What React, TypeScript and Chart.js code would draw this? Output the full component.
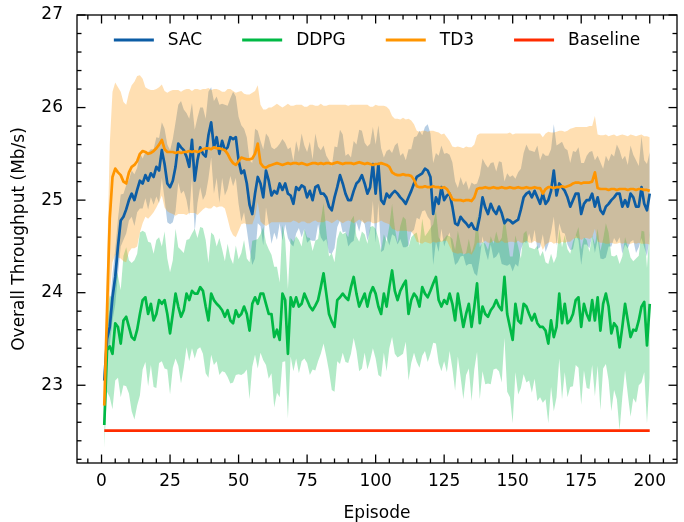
import React, { useEffect, useRef } from 'react';
import { Chart, registerables } from 'chart.js';

Chart.register(...registerables);

const WIDTH = 684;
const HEIGHT = 522;
const FONT_FAMILY = '"DejaVu Sans", sans-serif';
const FONT_SIZE = 17;

// Episode index (1..200)
const EPISODES: number[] = Array.from({ length: 200 }, (_, i) => i + 1);

// SAC: mean throughput per episode and its standard deviation
const SAC_MEAN = [
  23.05, 23.5, 23.63, 23.95, 24.17, 24.5, 24.78, 24.82, 24.9, 25.0,
  25.07, 25.0, 25.11, 25.21, 25.18, 25.27, 25.21, 25.29, 25.25, 25.36,
  25.32, 25.54, 25.39, 25.18, 25.14, 25.21, 25.36, 25.61, 25.57, 25.54,
  25.47, 25.36, 25.65, 25.21, 25.43, 25.57, 25.5, 25.47, 25.7, 25.84,
  25.57, 25.68, 25.5, 25.64, 25.54, 25.57, 25.68, 25.66, 25.68, 25.43,
  25.29, 25.32, 25.18, 24.95, 24.85, 25.07, 25.25, 25.18, 25.03, 25.32,
  25.21, 25.05, 25.1, 25.07, 25.18, 25.11, 25.18, 25.07, 25.05, 24.96,
  25.14, 25.11, 25.16, 25.14, 25.03, 25.1, 25.0, 25.14, 25.16, 25.07,
  25.07, 25.03, 24.93, 24.89, 25.03, 25.14, 25.27, 25.18, 25.07, 25.0,
  25.0, 25.1, 25.18, 25.21, 25.27, 25.18, 25.07, 25.14, 25.39, 25.07,
  25.39, 25.0, 24.96, 25.07, 25.03, 25.07, 25.1, 25.07, 25.03, 25.0,
  24.96, 25.03, 25.1, 25.18, 25.25, 25.27, 25.29, 25.34, 25.32, 25.25,
  24.85, 25.03, 24.96, 25.14, 25.0, 25.05, 25.07, 24.93, 24.75, 24.73,
  24.82, 24.78, 24.75, 24.71, 24.75, 24.69, 24.68, 24.82, 25.03, 24.92,
  24.85, 24.96, 24.89, 24.85, 24.93, 24.86, 24.75, 24.79, 24.78, 24.75,
  24.77, 24.79, 24.9, 25.03, 25.07, 25.09, 25.03, 25.1, 25.03, 24.96,
  25.07, 24.96, 25.0, 25.1, 25.32, 25.05, 25.18, 25.14, 25.1, 25.03,
  24.93, 25.0, 25.07, 25.07, 24.85, 24.96, 25.0, 25.0, 25.07, 24.93,
  25.03, 24.89, 24.85, 24.93, 24.96, 25.0, 25.03, 25.07, 25.07, 24.93,
  25.0, 24.93, 25.07, 25.03, 24.93, 24.93, 25.14, 24.96, 24.89, 25.07,
];
const SAC_STD = [
  0.08, 0.15, 0.2, 0.25, 0.3, 0.3, 0.28, 0.25, 0.26, 0.22,
  0.25, 0.28, 0.24, 0.3, 0.27, 0.25, 0.31, 0.26, 0.3, 0.32,
  0.35, 0.3, 0.38, 0.42, 0.4, 0.45, 0.48, 0.42, 0.5, 0.44,
  0.47, 0.52, 0.4, 0.55, 0.46, 0.43, 0.5, 0.41, 0.47, 0.38,
  0.5, 0.44, 0.53, 0.4, 0.49, 0.45, 0.42, 0.51, 0.44, 0.47,
  0.52, 0.45, 0.5, 0.48, 0.55, 0.7, 0.5, 0.46, 0.52, 0.4,
  0.47, 0.52, 0.45, 0.5, 0.43, 0.55, 0.44, 0.48, 0.52, 0.46,
  0.5, 0.41, 0.56, 0.45, 0.49, 0.53, 0.44, 0.58, 0.42, 0.47,
  0.52, 0.45, 0.5, 0.47, 0.55, 0.43, 0.49, 0.53, 0.41, 0.5,
  0.46, 0.54, 0.42, 0.55, 0.48, 0.44, 0.51, 0.47, 0.4, 0.53,
  0.42, 0.56, 0.5, 0.46, 0.52, 0.44, 0.49, 0.55, 0.45, 0.51,
  0.47, 0.52, 0.45, 0.5, 0.44, 0.48, 0.41, 0.45, 0.5, 0.47,
  0.55, 0.48, 0.52, 0.45, 0.5, 0.46, 0.42, 0.48, 0.45, 0.4,
  0.43, 0.38, 0.46, 0.4, 0.44, 0.48, 0.5, 0.45, 0.42, 0.47,
  0.5, 0.44, 0.52, 0.46, 0.49, 0.55, 0.45, 0.5, 0.47, 0.52,
  0.46, 0.51, 0.44, 0.48, 0.53, 0.45, 0.5, 0.42, 0.56, 0.47,
  0.44, 0.52, 0.48, 0.45, 0.5, 0.54, 0.43, 0.49, 0.46, 0.51,
  0.47, 0.53, 0.45, 0.5, 0.55, 0.44, 0.48, 0.52, 0.46, 0.5,
  0.45, 0.52, 0.49, 0.55, 0.46, 0.5, 0.44, 0.53, 0.47, 0.51,
  0.48, 0.45, 0.52, 0.46, 0.5, 0.44, 0.55, 0.47, 0.5, 0.45,
];

// DDPG: mean throughput per episode and its standard deviation
const DDPG_MEAN = [
  22.57, 23.38, 23.42, 23.34, 23.67, 23.63, 23.45, 23.7, 23.74, 23.63,
  23.52, 23.49, 23.6, 23.77, 23.92, 23.95, 23.77, 23.88, 23.7, 23.77,
  23.92, 23.88, 23.92, 23.77, 23.56, 23.77, 23.99, 23.85, 23.74, 23.81,
  23.99, 23.92, 24.02, 23.99, 23.99, 24.06, 24.02, 23.85, 23.7, 23.99,
  23.92, 23.88, 23.85, 23.81, 23.74, 23.81, 23.7, 23.67, 23.81, 23.74,
  23.77, 23.85, 23.77, 23.59, 23.88, 23.95, 23.88, 23.99, 23.99, 23.88,
  23.77, 23.77, 23.52, 23.6, 23.49, 23.99, 23.92, 23.34, 23.95, 23.85,
  23.95, 23.85, 23.88, 23.99, 23.92, 23.85, 23.81, 23.86, 23.92, 24.06,
  24.21, 23.99, 23.77, 23.69, 23.63, 23.92, 23.95, 23.99, 23.95, 23.92,
  24.06, 24.17, 23.99, 23.85, 23.92, 23.99, 23.85, 23.99, 24.06, 23.99,
  23.85, 23.77, 23.99, 23.85, 24.06, 24.24, 24.02, 23.92, 24.02, 24.08,
  24.13, 23.77, 23.92, 23.99, 23.95, 23.85, 24.06, 23.99, 23.95, 24.02,
  24.1, 24.17, 23.92, 23.85, 23.92, 23.88, 23.99, 23.88, 23.7, 23.99,
  23.81, 23.63, 23.77, 23.88, 23.63, 23.85, 24.1, 23.67, 23.85, 23.77,
  23.74, 23.81, 23.85, 23.92, 23.85, 23.81, 24.17, 23.77, 23.63, 23.49,
  23.88, 23.7, 23.67, 23.88, 23.85, 23.77, 23.7, 23.77, 23.67, 23.63,
  23.63, 23.59, 23.45, 23.7, 23.52, 23.63, 23.99, 23.67, 23.88, 23.67,
  23.7, 23.77, 23.92, 23.95, 23.63, 23.88, 23.77, 23.7, 23.92, 23.7,
  23.95, 23.59, 23.88, 23.99, 23.85, 23.56, 23.67, 23.63, 23.41, 23.63,
  23.88, 23.7, 23.52, 23.6, 23.59, 23.7, 23.85, 23.9, 23.43, 23.88,
];
const DDPG_STD = [
  0.25, 0.45, 0.55, 0.6, 0.62, 0.55, 0.58, 0.7, 0.75, 0.72,
  0.8, 0.86, 0.82, 0.88, 0.75, 0.7, 0.78, 0.66, 0.72, 0.8,
  0.68, 0.62, 0.74, 0.6, 0.66, 0.58, 0.7, 0.64, 0.72, 0.62,
  0.58, 0.66, 0.62, 0.7, 0.6, 0.65, 0.68, 0.72, 0.62, 0.66,
  0.7, 0.62, 0.74, 0.66, 0.6, 0.72, 0.68, 0.64, 0.7, 0.62,
  0.66, 0.72, 0.6, 0.74, 0.68, 0.62, 0.7, 0.64, 0.72, 0.66,
  0.7, 0.64, 0.76, 0.68, 0.62, 0.74, 0.66, 0.7, 0.64, 0.7,
  0.66, 0.72, 0.62, 0.7, 0.68, 0.74, 0.64, 0.7, 0.66, 0.72,
  0.76, 0.68, 0.62, 0.74, 0.7, 0.66, 0.72, 0.64, 0.7, 0.68,
  0.72, 0.66, 0.62, 0.7, 0.74, 0.64, 0.68, 0.72, 0.66, 0.7,
  0.74, 0.68, 0.64, 0.7, 0.66, 0.72, 0.68, 0.62, 0.7, 0.74,
  0.66, 0.72, 0.68, 0.64, 0.7, 0.66, 0.74, 0.62, 0.7, 0.68,
  0.64, 0.72, 0.68, 0.7, 0.66, 0.74, 0.62, 0.7, 0.76, 0.68,
  0.72, 0.78, 0.66, 0.7, 0.8, 0.68, 0.74, 0.82, 0.7, 0.76,
  0.72, 0.8, 0.68, 0.74, 0.7, 0.78, 0.66, 0.84, 0.76, 0.9,
  0.74, 0.8, 0.7, 0.76, 0.82, 0.72, 0.78, 0.7, 0.84, 0.76,
  0.82, 0.74, 0.86, 0.72, 0.8, 0.76, 0.7, 0.82, 0.74, 0.8,
  0.72, 0.78, 0.7, 0.76, 0.84, 0.72, 0.8, 0.74, 0.7, 0.82,
  0.74, 0.86, 0.7, 0.76, 0.8, 0.84, 0.72, 0.78, 0.9, 0.76,
  0.72, 0.8, 0.86, 0.74, 0.78, 0.7, 0.82, 0.76, 0.84, 0.8,
];

// TD3: mean throughput per episode and its standard deviation
const TD3_MEAN = [
  22.78, 23.8, 24.8, 25.25, 25.34, 25.3, 25.27, 25.2, 25.18, 25.3,
  25.36, 25.38, 25.42, 25.5, 25.53, 25.52, 25.5, 25.51, 25.53, 25.56,
  25.6, 25.65, 25.55, 25.52, 25.52, 25.52, 25.51, 25.52, 25.51, 25.52,
  25.52, 25.53, 25.52, 25.53, 25.52, 25.53, 25.55, 25.56, 25.56, 25.55,
  25.57, 25.56, 25.56, 25.55, 25.54, 25.5, 25.44, 25.4, 25.38, 25.42,
  25.46, 25.45, 25.44, 25.44, 25.45, 25.5, 25.61, 25.4, 25.36, 25.35,
  25.37, 25.38, 25.39, 25.4, 25.39, 25.38, 25.39, 25.4, 25.39, 25.4,
  25.4, 25.39, 25.4, 25.39, 25.38, 25.39, 25.4, 25.4, 25.39, 25.4,
  25.39, 25.4, 25.4, 25.39, 25.4, 25.41, 25.4, 25.39, 25.4, 25.4,
  25.4, 25.39, 25.4, 25.41, 25.4, 25.39, 25.4, 25.39, 25.38, 25.39,
  25.39, 25.4, 25.39, 25.38, 25.36, 25.3, 25.28, 25.27, 25.27, 25.28,
  25.27, 25.27, 25.26, 25.22, 25.15, 25.14, 25.14, 25.15, 25.14, 25.14,
  25.15, 25.14, 25.14, 25.13, 25.14, 25.12, 25.07, 25.01, 25.0, 25.0,
  25.0, 24.99, 25.0, 25.0, 24.99, 25.03, 25.12, 25.13, 25.13, 25.14,
  25.13, 25.13, 25.14, 25.13, 25.13, 25.14, 25.13, 25.13, 25.14, 25.13,
  25.13, 25.14, 25.13, 25.13, 25.14, 25.13, 25.13, 25.14, 25.13, 25.13,
  25.07, 25.12, 25.14, 25.14, 25.13, 25.14, 25.14, 25.15, 25.14, 25.15,
  25.16, 25.18, 25.19, 25.19, 25.18, 25.19, 25.19, 25.19, 25.2, 25.3,
  25.13, 25.12, 25.12, 25.12, 25.11, 25.12, 25.12, 25.11, 25.12, 25.12,
  25.12, 25.11, 25.12, 25.12, 25.11, 25.12, 25.12, 25.11, 25.11, 25.1,
];
const TD3_STD = [
  0.15, 0.5, 0.8, 0.92, 0.93, 0.92, 0.9, 0.86, 0.85, 0.86,
  0.88, 0.9, 0.92, 0.85, 0.78, 0.7, 0.7, 0.68, 0.66, 0.64,
  0.62, 0.6, 0.63, 0.64, 0.66, 0.67, 0.68, 0.67, 0.66, 0.67,
  0.68, 0.67, 0.66, 0.67, 0.68, 0.66, 0.65, 0.64, 0.65, 0.64,
  0.63, 0.64, 0.63, 0.62, 0.63, 0.7, 0.76, 0.78, 0.78, 0.75,
  0.72, 0.7, 0.7, 0.7, 0.71, 0.68, 0.63, 0.63, 0.62, 0.63,
  0.63, 0.62, 0.63, 0.64, 0.63, 0.62, 0.63, 0.64, 0.63, 0.62,
  0.63, 0.64, 0.63, 0.62, 0.63, 0.64, 0.63, 0.62, 0.63, 0.64,
  0.63, 0.62, 0.63, 0.64, 0.63, 0.62, 0.63, 0.64, 0.63, 0.62,
  0.63, 0.64, 0.63, 0.62, 0.63, 0.64, 0.63, 0.62, 0.63, 0.64,
  0.63, 0.62, 0.63, 0.63, 0.62, 0.61, 0.6, 0.61, 0.6, 0.61,
  0.6, 0.61, 0.6, 0.6, 0.6, 0.6, 0.61, 0.6, 0.6, 0.61,
  0.6, 0.6, 0.59, 0.58, 0.58, 0.56, 0.57, 0.57, 0.57, 0.58,
  0.57, 0.57, 0.58, 0.57, 0.58, 0.57, 0.58, 0.59, 0.59, 0.58,
  0.59, 0.59, 0.58, 0.59, 0.59, 0.58, 0.59, 0.59, 0.59, 0.58,
  0.59, 0.58, 0.59, 0.59, 0.58, 0.59, 0.59, 0.58, 0.59, 0.59,
  0.61, 0.6, 0.6, 0.59, 0.6, 0.6, 0.61, 0.6, 0.6, 0.6,
  0.61, 0.6, 0.6, 0.6, 0.61, 0.6, 0.6, 0.61, 0.6, 0.61,
  0.58, 0.58, 0.58, 0.59, 0.58, 0.58, 0.59, 0.58, 0.58, 0.59,
  0.58, 0.58, 0.59, 0.58, 0.58, 0.58, 0.59, 0.58, 0.58, 0.58,
];

// Baseline: constant throughput
const BASELINE_VALUE = 22.51;

const X_TICKS = [0, 25, 50, 75, 100, 125, 150, 175, 200];
const Y_TICKS = [23, 24, 25, 26, 27];
const X_MIN = -8.95;
const X_MAX = 209.95;
const Y_MIN = 22.16;
const Y_MAX = 27;
const X_MINOR_STEP = 5;
const Y_MINOR_STEP = 0.2;

const SERIES = [
  { label: 'SAC', color: '#0C5DA5', band: 'rgba(12, 93, 165, 0.3)', mean: SAC_MEAN, std: SAC_STD },
  { label: 'DDPG', color: '#00B945', band: 'rgba(0, 185, 69, 0.3)', mean: DDPG_MEAN, std: DDPG_STD },
  { label: 'TD3', color: '#FF9500', band: 'rgba(255, 149, 0, 0.3)', mean: TD3_MEAN, std: TD3_STD },
];
const BASELINE_COLOR = '#FF2C00';
const LINE_WIDTH = 2.7;

function buildDatasets() {
  const datasets: any[] = [];
  // Shaded ±std bands, drawn beneath all lines (higher order = drawn earlier)
  SERIES.forEach((s, k) => {
    const lowerIndex = datasets.length;
    datasets.push({
      label: `${s.label} lower`,
      isBand: true,
      data: EPISODES.map((e, i) => ({ x: e, y: s.mean[i] - s.std[i] })),
      borderColor: 'rgba(0,0,0,0)',
      borderWidth: 0,
      pointRadius: 0,
      fill: false,
      order: 31 - k * 10,
    });
    datasets.push({
      label: `${s.label} upper`,
      isBand: true,
      data: EPISODES.map((e, i) => ({ x: e, y: s.mean[i] + s.std[i] })),
      borderColor: 'rgba(0,0,0,0)',
      borderWidth: 0,
      pointRadius: 0,
      backgroundColor: s.band,
      fill: lowerIndex,
      order: 30 - k * 10,
    });
  });
  // Mean curves
  SERIES.forEach((s, k) => {
    datasets.push({
      label: s.label,
      data: EPISODES.map((e, i) => ({ x: e, y: s.mean[i] })),
      borderColor: s.color,
      backgroundColor: s.color,
      borderWidth: LINE_WIDTH,
      borderJoinStyle: 'round',
      pointRadius: 0,
      fill: false,
      tension: 0,
      order: 4 - k,
    });
  });
  datasets.push({
    label: 'Baseline',
    data: EPISODES.map((e) => ({ x: e, y: BASELINE_VALUE })),
    borderColor: BASELINE_COLOR,
    backgroundColor: BASELINE_COLOR,
    borderWidth: LINE_WIDTH,
    pointRadius: 0,
    fill: false,
    order: 1,
  });
  return datasets;
}

// Axes frame with inward major/minor ticks on all four sides
const framePlugin = {
  id: 'axesFrame',
  afterDatasetsDraw(chart: any) {
    const { ctx, chartArea, scales } = chart;
    const { left, right, top, bottom } = chartArea;
    const xs = scales.x;
    const ys = scales.y;
    ctx.save();
    ctx.strokeStyle = '#000';
    ctx.lineWidth = 1.3;
    ctx.lineCap = 'butt';
    ctx.strokeRect(left, top, right - left, bottom - top);

    const seg = (x1: number, y1: number, x2: number, y2: number) => {
      ctx.beginPath();
      ctx.moveTo(x1, y1);
      ctx.lineTo(x2, y2);
      ctx.stroke();
    };
    const MAJOR = 8.5;
    const MINOR = 4.5;

    for (let v = Math.ceil(X_MIN / X_MINOR_STEP) * X_MINOR_STEP; v <= X_MAX; v += X_MINOR_STEP) {
      const p = xs.getPixelForValue(v);
      const len = X_TICKS.includes(v) ? MAJOR : MINOR;
      seg(p, bottom, p, bottom - len);
      seg(p, top, p, top + len);
    }
    const yStart = Math.ceil(Y_MIN / Y_MINOR_STEP);
    const yEnd = Math.floor(Y_MAX / Y_MINOR_STEP + 1e-9);
    for (let n = yStart; n <= yEnd; n++) {
      const v = n * Y_MINOR_STEP;
      const p = ys.getPixelForValue(v);
      const isMajor = Y_TICKS.some((t) => Math.abs(t - v) < 1e-6);
      const len = isMajor ? MAJOR : MINOR;
      seg(left, p, left + len, p);
      seg(right, p, right - len, p);
    }
    ctx.restore();
  },
};

// Single-row legend placed inside the top of the plot area
const legendPlugin = {
  id: 'insideLegend',
  afterDraw(chart: any) {
    const { ctx, chartArea } = chart;
    const items = chart.data.datasets
      .filter((d: any) => !d.isBand)
      .map((d: any) => ({ label: d.label, color: d.borderColor }));
    const HANDLE = 40;
    const TEXT_GAP = 14;
    const COL_GAP = 40;
    ctx.save();
    ctx.font = `${FONT_SIZE}px ${FONT_FAMILY}`;
    const widths = items.map((it: any) => HANDLE + TEXT_GAP + ctx.measureText(it.label).width);
    const total = widths.reduce((a: number, b: number) => a + b, 0) + COL_GAP * (items.length - 1);
    let x = (chartArea.left + chartArea.right) / 2 - total / 2;
    const y = chartArea.top + 25;
    items.forEach((it: any, i: number) => {
      ctx.strokeStyle = it.color;
      ctx.lineWidth = 3;
      ctx.beginPath();
      ctx.moveTo(x, y);
      ctx.lineTo(x + HANDLE, y);
      ctx.stroke();
      ctx.fillStyle = '#000';
      ctx.textBaseline = 'middle';
      ctx.textAlign = 'left';
      ctx.fillText(it.label, x + HANDLE + TEXT_GAP, y + 1);
      x += widths[i] + COL_GAP;
    });
    ctx.restore();
  },
};

export default function App() {
  const canvasRef = useRef<HTMLCanvasElement | null>(null);

  useEffect(() => {
    if (!canvasRef.current) return;
    Chart.defaults.font.family = FONT_FAMILY;
    Chart.defaults.color = '#000';

    const chart = new Chart(canvasRef.current, {
      type: 'line',
      data: { datasets: buildDatasets() },
      options: {
        animation: false,
        responsive: false,
        maintainAspectRatio: false,
        layout: { padding: { top: 15, right: 7, bottom: 0, left: 0 } },
        plugins: {
          legend: { display: false },
          tooltip: { enabled: false },
          filler: { propagate: false },
        },
        elements: { point: { radius: 0 } },
        scales: {
          x: {
            type: 'linear',
            min: X_MIN,
            max: X_MAX,
            afterBuildTicks: (scale: any) => {
              scale.ticks = X_TICKS.map((v) => ({ value: v }));
            },
            afterFit: (scale: any) => {
              scale.height = 59;
              scale.paddingLeft = 0;
              scale.paddingRight = 0;
              scale.paddingTop = 0;
              scale.paddingBottom = 0;
            },
            grid: { display: false, drawTicks: false },
            border: { display: false },
            ticks: {
              color: '#000',
              font: { size: FONT_SIZE },
              padding: 8,
              maxRotation: 0,
              autoSkip: false,
            },
            title: {
              display: true,
              text: 'Episode',
              color: '#000',
              font: { size: FONT_SIZE },
              padding: { top: 0, bottom: -2 },
            },
          },
          y: {
            type: 'linear',
            min: Y_MIN,
            max: Y_MAX,
            afterBuildTicks: (scale: any) => {
              scale.ticks = Y_TICKS.map((v) => ({ value: v }));
            },
            afterFit: (scale: any) => {
              scale.width = 77;
              scale.paddingLeft = 0;
              scale.paddingRight = 0;
              scale.paddingTop = 0;
              scale.paddingBottom = 0;
            },
            grid: { display: false, drawTicks: false },
            border: { display: false },
            ticks: {
              color: '#000',
              font: { size: FONT_SIZE },
              padding: 14,
              autoSkip: false,
            },
            title: {
              display: true,
              text: 'Overall Throughput (Mb/s)',
              color: '#000',
              font: { size: FONT_SIZE },
              padding: { top: 9, bottom: 0 },
            },
          },
        },
      } as any,
      plugins: [framePlugin, legendPlugin],
    });

    return () => chart.destroy();
  }, []);

  return (
    <div style={{ position: 'fixed', left: 0, top: 0, width: WIDTH, height: HEIGHT, background: '#fff' }}>
      <canvas ref={canvasRef} width={WIDTH} height={HEIGHT} style={{ display: 'block' }} />
    </div>
  );
}
